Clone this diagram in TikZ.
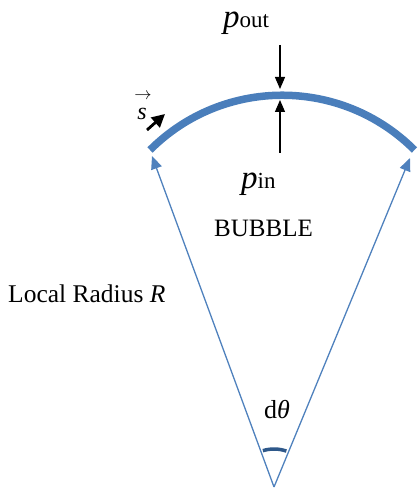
\documentclass[tikz,border=0pt]{standalone}
\usepackage{fontspec}
\setmainfont{Liberation Serif}
\usetikzlibrary{arrows.meta}
\definecolor{arcblue}{RGB}{74,126,187}
\definecolor{lineblue}{RGB}{79,129,189}
\definecolor{dblue}{RGB}{46,88,138}
\begin{document}
\begin{tikzpicture}[x=1pt,y=-1pt,
  lbl/.style={inner sep=0pt, font=\fontsize{25}{25}\selectfont},
  radline/.style={lineblue, line width=1.3pt, -{Triangle[length=13pt,width=11pt]}},
  presarrow/.style={black, line width=1.2pt, -{Triangle[length=12pt,width=10pt]}}]
\useasboundingbox (0,0) rectangle (418,489);
\coordinate (O) at (274,487);
\coordinate (L) at (150,150);
\coordinate (LT) at (152,156);
\coordinate (RT) at (410,158);
\draw[arcblue, line width=7.5pt] (L) arc[start angle=225,end angle=315,radius=187];
\draw[radline] (O) -- (LT);
\draw[radline] (O) -- (RT);
\draw[dblue, line width=3.5pt] (O) ++(253:38) arc[start angle=253,end angle=289,radius=38];
\coordinate (PO1) at (280,45);
\coordinate (PO2) at (280,89);
\coordinate (PI1) at (280,153);
\coordinate (PI2) at (280,100);
\draw[presarrow] (PO1) -- (PO2);
\draw[presarrow] (PI1) -- (PI2);
\coordinate (S1) at (147,130);
\coordinate (S2) at (165,114);
\draw[black, line width=2.8pt, -{Triangle[length=13pt,width=13pt]}] (S1) -- (S2);
\node[inner sep=0pt, anchor=base west] (pout) at (223,28) {\fontsize{33}{33}\selectfont\textit{p}\fontsize{23}{23}\selectfont out};
\node[inner sep=0pt, anchor=base west] (pin) at (241,188) {\fontsize{33}{33}\selectfont\textit{p}\fontsize{23}{23}\selectfont in};
\node[lbl] (bubble) at (263.5,228) {BUBBLE};
\node[lbl, anchor=base west, font=\fontsize{25.5}{25.5}\selectfont] (radius) at (8,302) {Local Radius \textit{R}};
\node[lbl, font=\fontsize{26}{26}\selectfont] (dtheta) at (277,410) {d\textit{θ}};
\node[inner sep=0pt] (svec) at (143,96) {\fontsize{16}{16}\selectfont$\rightarrow$};
\node[inner sep=0pt, anchor=base] (s) at (142,120) {\fontsize{24}{24}\selectfont\textit{s}};
\end{tikzpicture}
\end{document}
